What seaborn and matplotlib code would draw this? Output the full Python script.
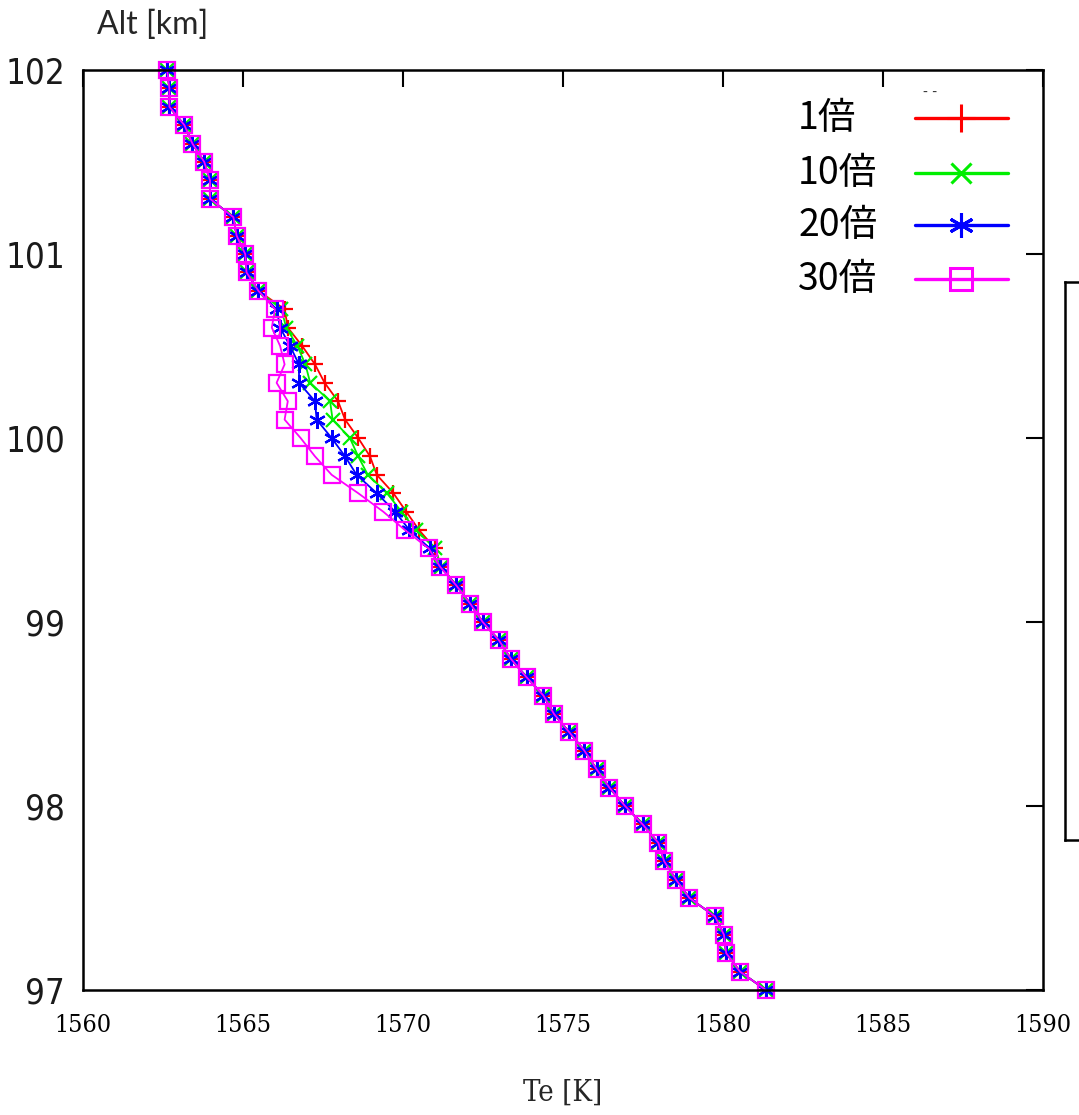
import matplotlib
matplotlib.use("Agg")
import matplotlib.pyplot as plt
from matplotlib.lines import Line2D
import seaborn as sns
import pandas as pd

# altitude grid [km], top to bottom
alt = [102.0, 101.9, 101.8, 101.7, 101.6, 101.5, 101.4, 101.3, 101.2, 101.1,
       101.0, 100.9, 100.8, 100.7, 100.6, 100.5, 100.4, 100.3, 100.2, 100.1,
       100.0, 99.9, 99.8, 99.7, 99.6, 99.5, 99.4, 99.3, 99.2, 99.1,
       99.0, 98.9, 98.8, 98.7, 98.6, 98.5, 98.4, 98.3, 98.2, 98.1,
       98.0, 97.9, 97.8, 97.7, 97.6, 97.5, 97.4, 97.3, 97.2, 97.1,
       97.0]

# Te [K] shared by all runs above 100.8 km and below 99.3 km
te_top = [1562.63, 1562.70, 1562.70, 1563.17, 1563.42, 1563.79, 1563.97,
          1563.97, 1564.70, 1564.80, 1565.07, 1565.11, 1565.48]
te_bottom = [1571.66, 1572.10, 1572.49, 1573.00, 1573.37, 1573.86, 1574.39,
             1574.72, 1575.20, 1575.67, 1576.05, 1576.45, 1576.94, 1577.49,
             1577.98, 1578.16, 1578.53, 1578.95, 1579.75, 1580.03, 1580.10,
             1580.53, 1581.34]

# 100.7 .. 99.3 km, where the runs differ
te_mid_1 = [1566.30, 1566.40, 1566.85, 1567.25, 1567.55, 1567.97, 1568.19,
            1568.60, 1568.97, 1569.18, 1569.70, 1570.10, 1570.50, 1571.00,
            1571.20]
te_mid_10 = [1566.20, 1566.35, 1566.70, 1566.95, 1567.10, 1567.72, 1567.80,
             1568.34, 1568.60, 1568.90, 1569.50, 1569.95, 1570.40, 1571.00,
             1571.20]
te_mid_20 = [1566.05, 1566.16, 1566.47, 1566.75, 1566.75, 1567.25, 1567.30,
             1567.77, 1568.19, 1568.55, 1569.18, 1569.75, 1570.20, 1570.84,
             1571.16]
te_mid_30 = [1566.00, 1565.90, 1566.16, 1566.30, 1566.05, 1566.40, 1566.30,
             1566.80, 1567.25, 1567.77, 1568.60, 1569.38, 1570.06, 1570.80,
             1571.16]

labels = ["1倍", "10倍", "20倍", "30倍"]
mids = [te_mid_1, te_mid_10, te_mid_20, te_mid_30]

xticks = [1560, 1565, 1570, 1575, 1580, 1585, 1590]
yticks = [97, 98, 99, 100, 101, 102]

colors = ["#ff0000", "#00ee00", "#0000ff", "#ff00ff"]
markers = ["+", "x", (6, 2, 0), "s"]
msizes = [12, 10, 12, 12]

frames = []
for lab, mid in zip(labels, mids):
    frames.append(pd.DataFrame({"Te": te_top + mid + te_bottom,
                                "Alt": alt, "run": lab}))
df = pd.concat(frames, ignore_index=True)

sns.set_style("white")
plt.rcParams["font.family"] = ["Noto Sans CJK JP", "DejaVu Sans"]

fig = plt.figure(figsize=(10.79, 11.15), dpi=100)
ax = fig.add_axes([83 / 1079, 1 - 990 / 1115, 960 / 1079, 920 / 1115])

for lab, c, m, ms in zip(labels, colors, markers, msizes):
    sns.lineplot(data=df[df.run == lab], x="Te", y="Alt", ax=ax,
                 sort=False, estimator=None, color=c, lw=1.3,
                 marker=m, markersize=ms, mec=c, mfc="none", mew=1.6,
                 clip_on=False, legend=False)

ax.set_xlim(1560, 1590)
ax.set_ylim(97, 102)
ax.set_xticks(xticks)
ax.set_yticks(yticks)
ax.set_xlabel("")
ax.set_ylabel("")
for s in ax.spines.values():
    s.set_color("black")
    s.set_linewidth(1.8)
ax.tick_params(direction="in", length=12, width=1.5, top=True, right=True,
               colors="black")
ax.tick_params(axis="y", pad=13)
ax.tick_params(axis="x", pad=17)
for t in ax.get_yticklabels():
    t.set_fontfamily("DejaVu Sans")
    t.set_fontstretch("condensed")
    t.set_fontsize(25)
    t.set_color("#1a1a1a")
for t in ax.get_xticklabels():
    t.set_fontfamily("DejaVu Serif")
    t.set_fontstretch("condensed")
    t.set_fontsize(18)

fig.text(563 / 1079, 1 - 1093 / 1115, "Te [K]", ha="center", va="center",
         fontsize=21, family="DejaVu Serif", fontstretch="condensed")
fig.text(97 / 1079, 1 - 25 / 1115, "Alt [km]", ha="left", va="center",
         fontsize=23, family=["Lato", "DejaVu Sans"])

# key, drawn by hand so labels are left aligned like the original
rows = [0.9478, 0.888, 0.8315, 0.7728]
leg_ms = [20, 14, 18, 16]
for lab, c, m, ms, yy in zip(labels, colors, markers, leg_ms, rows):
    ax.text(0.745, yy, lab, transform=ax.transAxes, ha="left", va="center",
            fontsize=27, color="black")
    ax.add_line(Line2D([0.8667, 0.9635], [yy, yy], transform=ax.transAxes,
                       color=c, lw=2.4, clip_on=False))
    ax.add_line(Line2D([0.9146], [yy], transform=ax.transAxes, color=c,
                       marker=m, markersize=ms, mec=c, mfc="none", mew=2.2,
                       clip_on=False))
ax.text(0.875, 0.976, "- -", transform=ax.transAxes, fontsize=10,
        family="DejaVu Sans", ha="left", va="center", color="#333333")

# edge of a neighbouring panel, cut off by the image border
ax2 = fig.add_axes([1065 / 1079, 1 - 840 / 1115, 0.1, 558 / 1115])
ax2.set_xlim(0, 1)
ax2.set_ylim(0, 5.75)
ax2.set_yticks([1, 2, 3, 4])
ax2.set_xticks([])
ax2.set_yticklabels([])
for s in ax2.spines.values():
    s.set_color("black")
    s.set_linewidth(1.8)
ax2.tick_params(axis="y", direction="in", length=12, width=1.5,
                colors="black")

fig.savefig("out.png", dpi=100)
